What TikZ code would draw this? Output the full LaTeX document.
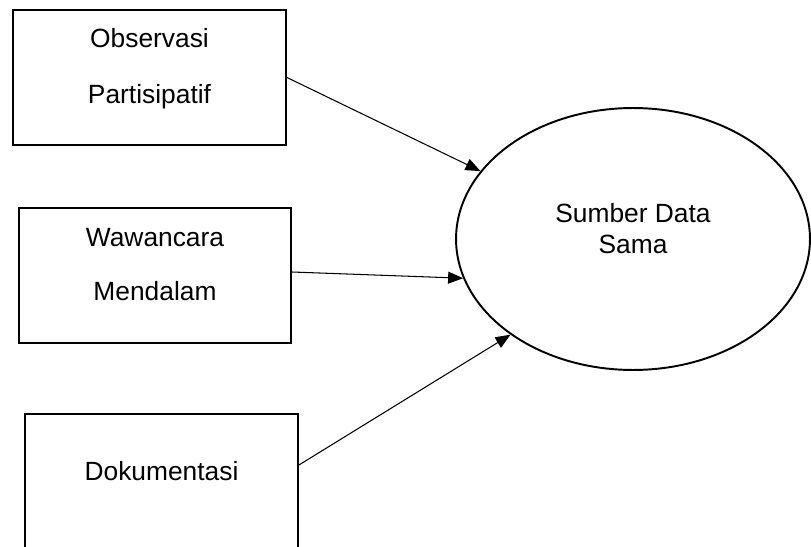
\documentclass[tikz,border=0pt]{standalone}
\usepackage{fontspec}
\setmainfont{Liberation Sans}
\usepackage{tikz}
\usetikzlibrary{shapes, arrows.meta, positioning}
\tikzstyle{arr}  = [draw, line width=0.6pt, -{Triangle[length=0.3cm, width=0.24cm]}]
\tikzstyle{box}  = [draw, rectangle, line width=1.1pt, minimum width=5.46cm, minimum height=2.7cm]
\tikzstyle{ell}  = [draw, ellipse, line width=1.1pt, inner sep=0pt, minimum width=7.08cm, minimum height=5.24cm]
\tikzstyle{txt}  = [align=center, font=\fontsize{15}{18}\selectfont]

\begin{document}
\begin{tikzpicture}[x=0.02cm, y=-0.02cm]

\clip (0,0) rectangle (811,547);

% nodes
\node [box]                          (obs)    at (149.5,77.5) {};
\node [box, minimum width=5.44cm]    (wwc)    at (155,275.5)  {};
\node [box, minimum height=2.92cm]   (dok)    at (161.5,487)  {};
\node [ell]                          (sumber) at (633,239)    {};

% texts
\node [txt] (obstxt)    at ([yshift=0.18cm]obs.center)    {Observasi\\[14pt]Partisipatif};
\node [txt] (wwctxt)    at ([yshift=0.22cm]wwc.center)    {Wawancara\\[13pt]Mendalam};
\node [txt] (doktxt)    at ([yshift=0.32cm]dok.center)    {Dokumentasi};
\node [txt] (sumbertxt) at ([yshift=0.21cm]sumber.center) {Sumber Data\\Sama};

% edges
\path (obs.east)                 edge [arr] (sumber.156);
\path ([yshift=0.07cm]wwc.east)  edge [arr] (sumber.193.5);
\path ([yshift=0.44cm]dok.east)  edge [arr] (sumber.218);

\end{tikzpicture}
\end{document}
